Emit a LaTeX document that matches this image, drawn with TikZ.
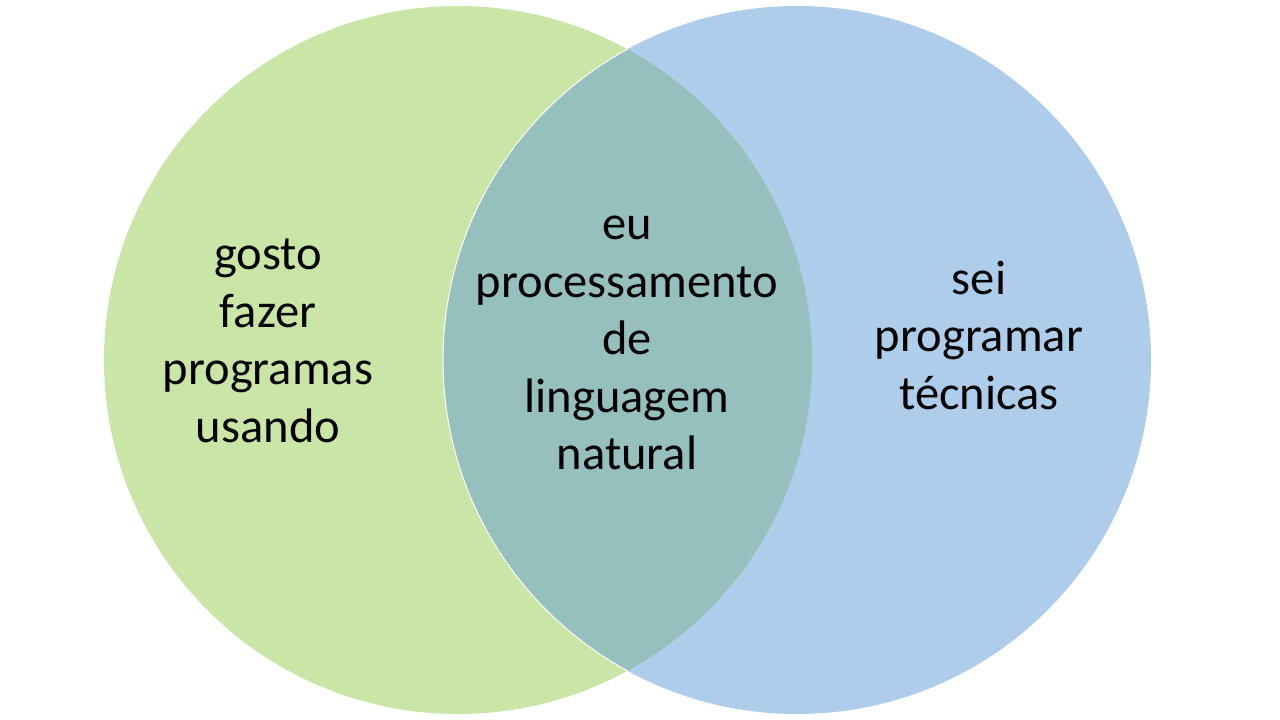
\documentclass[tikz,border=0pt]{standalone}
\usepackage{fontspec}
\setmainfont{Carlito}
\usepackage{tikz}

\definecolor{setgreen}{HTML}{C9E6A7}
\definecolor{setblue}{HTML}{AECDEA}
\definecolor{setboth}{HTML}{96C0BE}

\begin{document}
\begin{tikzpicture}[
	  x=1pt, y=-1pt,
	  every node/.style = {align=center, font=\fontsize{48.5}{57.5}\selectfont, inner sep=0pt},
	  leftset/.style={fill=setgreen},
	  rightset/.style={fill=setblue},
	  bothset/.style={fill=setboth}
	]
	  \useasboundingbox (0,0) rectangle (1280,720);
	  \fill[leftset] (458,360) circle (354pt);
	  \fill[rightset] (797,360) circle (354pt);
	  \begin{scope}
		\clip (458,360) circle (354pt);
		\fill[bothset] (797,360) circle (354pt);
		\draw[white, line width=1pt] (797,360) circle (354pt);
	  \end{scope}
  
	  \node (gosto) at (268,341) {gosto\\fazer\\programas\\usando};
	  \node (eu) at (627,343) {eu\\processamento\\de\\linguagem\\natural};
	  \node (sei) at (979,335) {sei\\programar\\técnicas};
	\end{tikzpicture}
\end{document}
